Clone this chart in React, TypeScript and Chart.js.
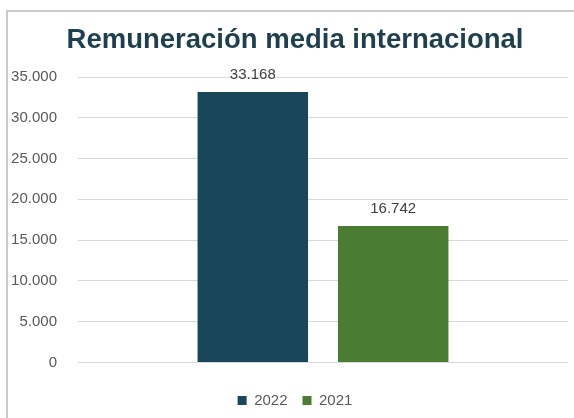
import React, { useEffect, useRef } from "react";
import { Chart, registerables } from "chart.js";

Chart.register(...registerables);

const categories = ["Remuneración media internacional"];
const seriesNames = ["2022", "2021"];
const values2022 = [33168];
const values2021 = [16742];
const yTickMax = 35000;
const yTickStep = 5000;

const FONT = '"Liberation Sans", Arial, sans-serif';

const fmt = (v: number) => {
  const s = Math.round(v).toString();
  return s.length > 3 ? s.replace(/\B(?=(\d{3})+(?!\d))/g, ".") : s;
};

const valueLabels = {
  id: "valueLabels",
  afterDatasetsDraw(chart: any) {
    const ctx = chart.ctx;
    ctx.save();
    ctx.font = "15px " + FONT;
    ctx.fillStyle = "#404040";
    ctx.textAlign = "center";
    ctx.textBaseline = "middle";
    chart.data.datasets.forEach((ds: any, i: number) => {
      const meta = chart.getDatasetMeta(i);
      meta.data.forEach((bar: any, j: number) => {
        ctx.fillText(fmt(ds.data[j]), bar.x, bar.y - 17);
      });
    });
    ctx.restore();
  },
};

const legendSize = {
  id: "legendSize",
  beforeInit(chart: any) {
    const lg = chart.legend;
    if (!lg) return;
    const orig = lg.fit;
    lg.fit = function () {
      orig.call(this);
      this.height = 40;
    };
  },
};

export default function App() {
  const ref = useRef<HTMLCanvasElement | null>(null);
  useEffect(() => {
    if (!ref.current) return;
    const chart = new Chart(ref.current, {
      type: "bar",
      data: {
        labels: categories,
        datasets: [
          {
            label: seriesNames[0],
            data: values2022,
            backgroundColor: "#1a465b",
            categoryPercentage: 0.573,
            barPercentage: 0.787,
          },
          {
            label: seriesNames[1],
            data: values2021,
            backgroundColor: "#4b7c33",
            categoryPercentage: 0.573,
            barPercentage: 0.787,
          },
        ],
      },
      options: {
        animation: false,
        responsive: false,
        maintainAspectRatio: false,
        layout: { padding: { left: 6, right: 6, top: 0, bottom: 0 } },
        plugins: {
          title: {
            display: true,
            text: "Remuneración media internacional",
            color: "#1e3f4e",
            font: { family: FONT, size: 27.5, weight: "bold" },
            padding: { top: 24, bottom: 20 },
          },
          legend: {
            position: "bottom",
            labels: {
              boxWidth: 9,
              boxHeight: 9,
              padding: 15,
              color: "#595959",
              font: { family: FONT, size: 15 },
            },
          },
          tooltip: { enabled: false },
        },
        scales: {
          x: {
            ticks: { display: false },
            grid: { display: false },
            border: { display: false },
            afterFit: (s: any) => {
              s.height = 15.5;
            },
          },
          y: {
            min: 0,
            max: yTickMax,
            ticks: {
              stepSize: yTickStep,
              padding: 21,
              color: "#595959",
              font: { family: FONT, size: 15 },
              callback: (v: any) => fmt(Number(v)),
            },
            grid: { color: "#d9d9d9", lineWidth: 1, drawTicks: false },
            border: { display: false },
            afterFit: (s: any) => {
              s.width = 72;
            },
          },
          yRight: {
            type: "linear",
            position: "right",
            display: true,
            ticks: { display: false },
            grid: { display: false, drawOnChartArea: false },
            border: { display: false },
            afterFit: (s: any) => {
              s.width = 16;
            },
          },
        },
      },
      plugins: [valueLabels, legendSize],
    });
    return () => chart.destroy();
  }, []);

  return (
    <div style={{ position: "absolute", left: 0, top: 0, width: 574, height: 418, background: "#ffffff", overflow: "hidden" }}>
      <div
        style={{
          position: "absolute",
          left: 6,
          top: 10,
          width: 620,
          height: 440,
          borderLeft: "2px solid #c9c9c9",
          borderTop: "2px solid #c9c9c9",
        }}
      />
      <canvas ref={ref} width={590} height={418} style={{ position: "absolute", left: 0, top: 0 }} />
    </div>
  );
}
